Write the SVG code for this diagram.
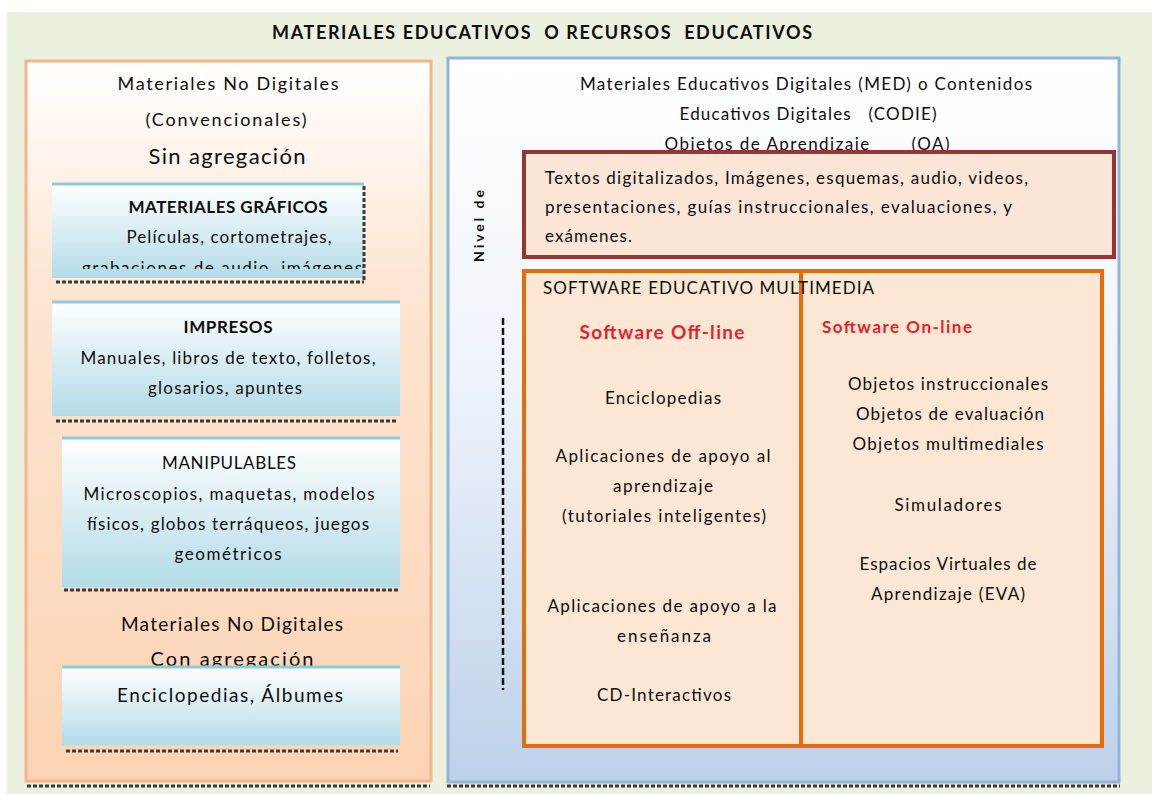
<svg xmlns="http://www.w3.org/2000/svg" width="1159" height="794" viewBox="0 0 1159 794">
<defs>
<linearGradient id="gLeft" x1="0" y1="0" x2="0" y2="1">
<stop offset="0" stop-color="#ffffff"/>
<stop offset="0.3" stop-color="#fde6d3"/>
<stop offset="1" stop-color="#fbd3b3"/>
</linearGradient>
<linearGradient id="gRight" x1="0" y1="0" x2="0" y2="1">
<stop offset="0" stop-color="#ffffff"/>
<stop offset="0.45" stop-color="#eef3fa"/>
<stop offset="1" stop-color="#bcd1ea"/>
</linearGradient>
<linearGradient id="gBox" x1="0" y1="0" x2="0" y2="1">
<stop offset="0" stop-color="#ffffff"/>
<stop offset="1" stop-color="#b3dbe7"/>
</linearGradient>
<clipPath id="clip1"><rect x="52" y="184" width="312" height="85"/></clipPath>
<style>
text{font-family:Lato,"Liberation Sans",sans-serif;fill:#0d0d0d;font-size:17px}
.c{text-anchor:middle}
.b{font-weight:bold}
.red{fill:#e8202a;font-weight:bold}
.box{fill:url(#gBox);stroke:none}
.boxtop{stroke:#8ccbdb;stroke-width:3;fill:none}
.dot{stroke:#3a3a3a;stroke-width:3;stroke-dasharray:4 2;fill:none}
</style>
</defs>
<rect x="0" y="0" width="1159" height="794" fill="#ffffff"/>
<rect x="7" y="12" width="1145" height="782" fill="#ebf1de"/>
<g id="title"><text x="542" y="39" class="c b" style="font-size:18px" textLength="540" xml:space="preserve">MATERIALES EDUCATIVOS  O RECURSOS  EDUCATIVOS</text></g>

<g id="left-panel">
<rect x="26" y="61" width="405" height="720" fill="url(#gLeft)" stroke="#f6b48a" stroke-width="3"/>
<line x1="27" y1="786" x2="430" y2="786" class="dot"/>
<text x="228" y="90" class="c" style="font-size:18px" textLength="221">Materiales No Digitales</text>
<text x="226" y="126" class="c" style="font-size:18px" textLength="161">(Convencionales)</text>
<text x="227" y="164" class="c" style="font-size:22px" textLength="157">Sin agregación</text>
</g>

<g id="materiales-graficos">
<rect x="52" y="184" width="312" height="94" class="box"/>
<line x1="52" y1="184" x2="364" y2="184" class="boxtop"/>
<line x1="364" y1="186" x2="364" y2="280" class="dot"/>
<line x1="56" y1="282" x2="364" y2="282" class="dot"/>
<g clip-path="url(#clip1)">
<text x="228" y="213" class="c b" textLength="199">MATERIALES GRÁFICOS</text>
<text x="229" y="243" class="c" textLength="205">Películas, cortometrajes,</text>
<text x="222" y="274" class="c" textLength="280">grabaciones de audio, imágenes</text>
</g>
</g>

<g id="impresos">
<rect x="52" y="302" width="348" height="114" class="box"/>
<line x1="52" y1="302" x2="400" y2="302" class="boxtop"/>
<line x1="56" y1="421" x2="398" y2="421" class="dot"/>
<text x="228" y="333" class="c b" textLength="89">IMPRESOS</text>
<text x="228" y="364" class="c" textLength="295">Manuales, libros de texto, folletos,</text>
<text x="225" y="394" class="c" textLength="154">glosarios, apuntes</text>
</g>

<g id="manipulables">
<rect x="62" y="438" width="338" height="149" class="box"/>
<line x1="62" y1="438" x2="400" y2="438" class="boxtop"/>
<line x1="64" y1="590" x2="398" y2="590" class="dot"/>
<text x="229" y="469" class="c" textLength="134">MANIPULABLES</text>
<text x="229" y="500" class="c" textLength="291">Microscopios, maquetas, modelos</text>
<text x="228" y="530" class="c" textLength="282">físicos, globos terráqueos, juegos</text>
<text x="228" y="560" class="c" textLength="107">geométricos</text>
</g>

<g id="con-agregacion">
<text x="232" y="631" class="c" style="font-size:19px" textLength="222">Materiales No Digitales</text>
<text x="232" y="666" class="c" style="font-size:20px" textLength="163">Con agregación</text>
</g>

<g id="enciclopedias-albumes">
<rect x="62" y="667" width="338" height="78" class="box"/>
<line x1="62" y1="667" x2="400" y2="667" class="boxtop"/>
<line x1="66" y1="751" x2="398" y2="751" class="dot"/>
<text x="230" y="702" class="c" style="font-size:19px" textLength="226">Enciclopedias, Álbumes</text>
</g>

<g id="right-panel">
<rect x="448" y="58" width="671" height="724" fill="url(#gRight)" stroke="#95b3d7" stroke-width="3"/>
<line x1="447" y1="786" x2="1120" y2="786" class="dot"/>
<text x="806" y="90" class="c" textLength="452">Materiales Educativos Digitales (MED) o Contenidos</text>
<text x="808" y="120" class="c" textLength="257" xml:space="preserve">Educativos Digitales   (CODIE)</text>
<text x="807" y="150" class="c" textLength="285" xml:space="preserve">Objetos de Aprendizaje       (OA)</text>
<text transform="translate(484,262) rotate(-90)" class="b" style="font-size:14px" textLength="72">Nivel de</text>
</g>

<g id="textos-digitalizados">
<rect x="524" y="152" width="590" height="105" fill="#fbe5d6" stroke="#943634" stroke-width="4"/>
<text x="545" y="184" textLength="483">Textos digitalizados, Imágenes, esquemas, audio, videos,</text>
<text x="545" y="213" textLength="467">presentaciones, guías instruccionales, evaluaciones, y</text>
<text x="545" y="242" textLength="87">exámenes.</text>
</g>

<g id="software-multimedia">
<rect x="524" y="271" width="578" height="475" fill="#fce6d4" stroke="#e46c0a" stroke-width="4"/>
<line x1="801" y1="271" x2="801" y2="746" stroke="#e46c0a" stroke-width="4"/>
<text x="543" y="294" textLength="331">SOFTWARE EDUCATIVO MULTIMEDIA</text>
</g>

<g id="software-offline">
<text x="662" y="339" class="c red" style="font-size:19px" textLength="165">Software Off-line</text>
<text x="663" y="404" class="c" textLength="116">Enciclopedias</text>
<text x="663" y="462" class="c" textLength="215">Aplicaciones de apoyo al</text>
<text x="663" y="492" class="c" textLength="100">aprendizaje</text>
<text x="664" y="522" class="c" textLength="204">(tutoriales inteligentes)</text>
<text x="662" y="612" class="c" textLength="229">Aplicaciones de apoyo a la</text>
<text x="664" y="642" class="c" textLength="94">enseñanza</text>
<text x="664" y="701" class="c" textLength="134">CD-Interactivos</text>
</g>

<g id="software-online">
<text x="822" y="333" class="red" textLength="150">Software On-line</text>
<text x="948" y="390" class="c" textLength="200">Objetos instruccionales</text>
<text x="950" y="420" class="c" textLength="188">Objetos de evaluación</text>
<text x="948" y="450" class="c" textLength="191">Objetos multimediales</text>
<text x="948" y="511" class="c" textLength="107">Simuladores</text>
<text x="948" y="570" class="c" textLength="177">Espacios Virtuales de</text>
<text x="948" y="600" class="c" textLength="154">Aprendizaje (EVA)</text>
</g>

<g id="connectors">
<line x1="503" y1="318" x2="503" y2="690" stroke="#111" stroke-width="2.5" stroke-dasharray="7 3"/>
</g>
</svg>
